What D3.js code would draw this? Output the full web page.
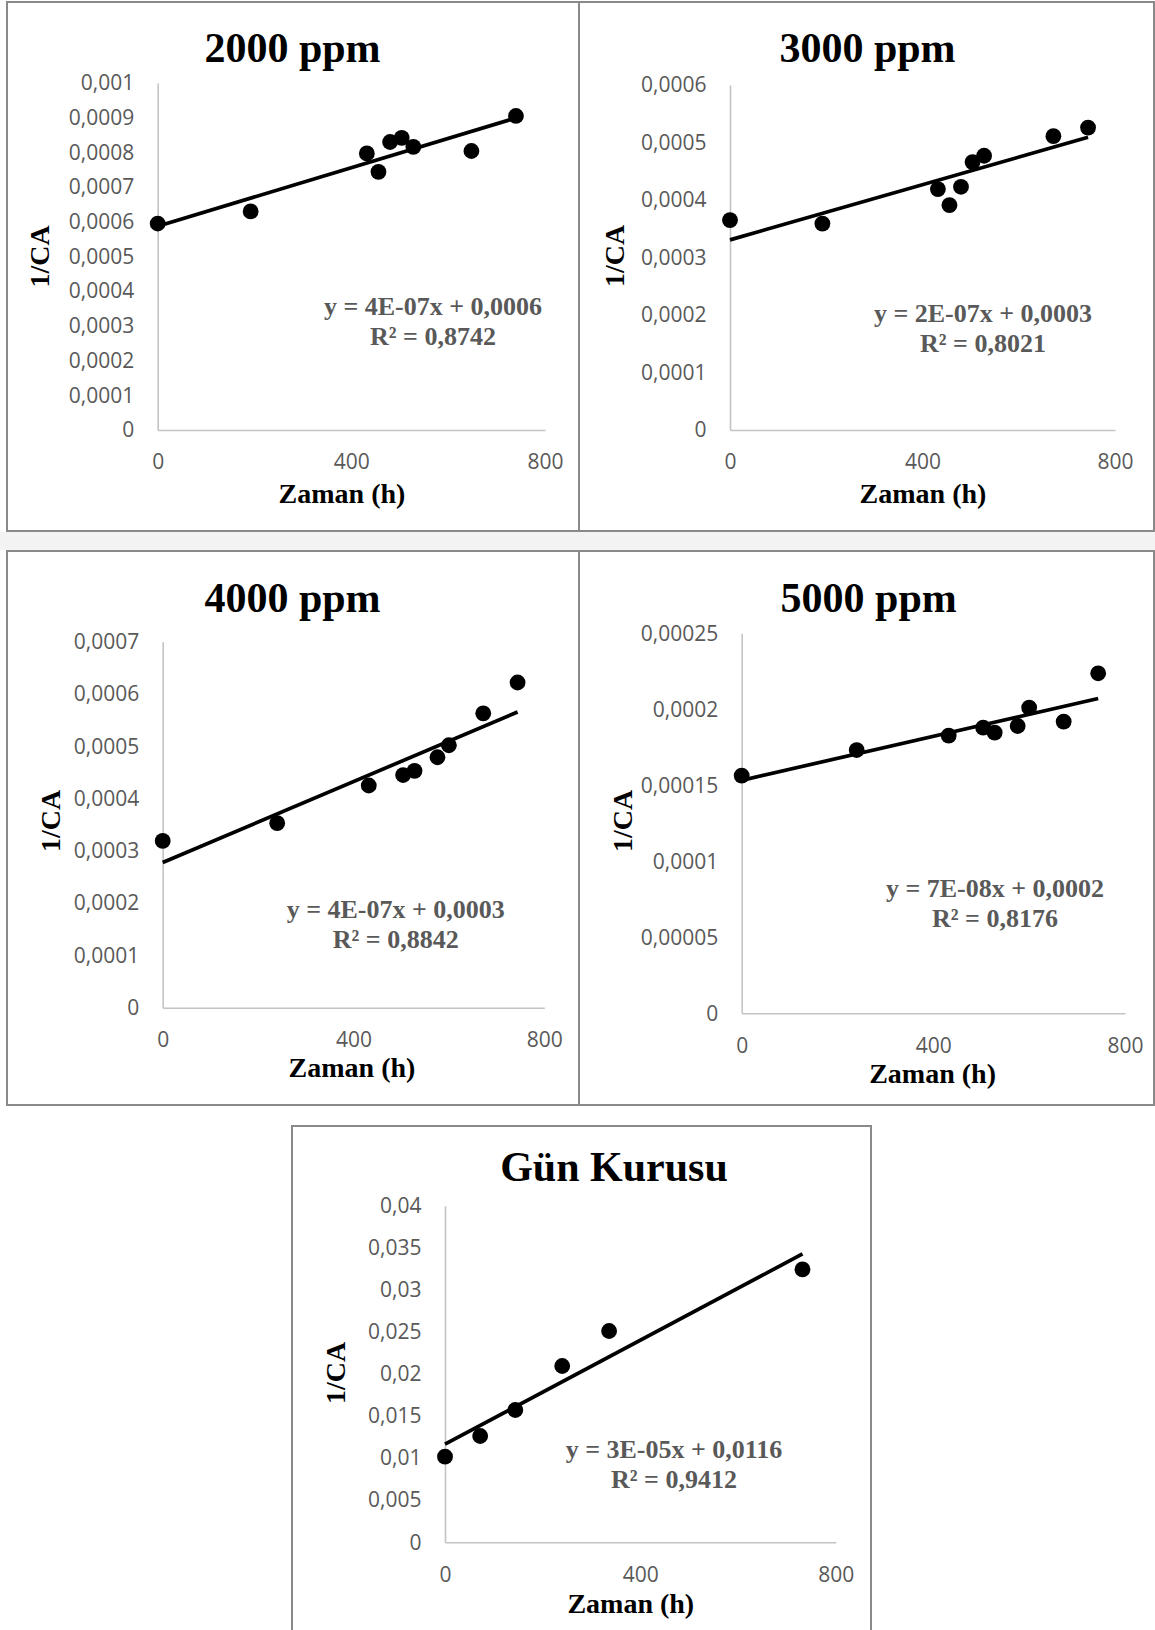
<!DOCTYPE html>
<html>
<head>
<meta charset="utf-8">
<script src="https://cdn.jsdelivr.net/npm/d3@7"></script>
<style>
  body { margin: 0; background: #fff; }
  svg { display: block; }
</style>
</head>
<body>
<svg id="chart" width="1155" height="1630"></svg>
<script>
// ---- data ----
const titles = ["2000 ppm", "3000 ppm", "4000 ppm", "5000 ppm", "Gün Kurusu"];

const times2000 = [0, 192, 432, 456, 480, 504, 528, 648, 740];
const vals2000  = [0.000595, 0.000630, 0.000797, 0.000744, 0.000830, 0.000842, 0.000816, 0.000804, 0.000905];

const times3000 = [0, 192, 432, 456, 480, 504, 528, 672, 744];
const vals3000  = [0.000365, 0.000359, 0.000419, 0.000391, 0.000423, 0.000466, 0.000477, 0.000511, 0.000526];

const times4000 = [0, 240, 432, 504, 528, 576, 600, 672, 744];
const vals4000  = [0.000319, 0.000353, 0.000425, 0.000445, 0.000453, 0.000479, 0.000502, 0.000563, 0.000622];

const times5000 = [0, 240, 432, 504, 528, 576, 600, 672, 744];
const vals5000  = [0.0001564, 0.0001732, 0.0001827, 0.0001879, 0.0001846, 0.0001890, 0.0002011, 0.0001919, 0.0002237];

const timesSun = [0, 72, 144, 240, 336, 732];
const valsSun  = [0.01018, 0.01263, 0.01572, 0.02095, 0.02511, 0.03244];

const yMax  = [0.001, 0.0006, 0.0007, 0.00025, 0.04];
const yStep = [0.0001, 0.0001, 0.0001, 0.00005, 0.005];
const xTicks = [0, 400, 800];

const equations = ["y = 4E-07x + 0,0006", "y = 2E-07x + 0,0003", "y = 4E-07x + 0,0003",
                   "y = 7E-08x + 0,0002", "y = 3E-05x + 0,0116"];
const r2Labels  = ["R² = 0,8742", "R² = 0,8021", "R² = 0,8842", "R² = 0,8176", "R² = 0,9412"];

const xTitle = "Zaman (h)";
const yTitle = "1/CA";

const allTimes = [times2000, times3000, times4000, times5000, timesSun];
const allVals  = [vals2000, vals3000, vals4000, vals5000, valsSun];

// ---- layout (page pixels) ----
// box: frame x0,y0,x1,y1   plot: left,top,right,bottom
const layout = [
  {box: [7, 2, 579, 531],      plot: [157.7, 83, 545, 430],       title: [292.5, 61.7], xt: [342, 503],   yt: [39, 256.5], eq: [433, 315]},
  {box: [579, 2, 1154, 531],   plot: [730, 85, 1115, 430],        title: [867.5, 61.7], xt: [923, 503],   yt: [614, 256],  eq: [983, 321.7]},
  {box: [7, 551, 579, 1105],   plot: [162.7, 641.7, 544.3, 1007.7], title: [292.5, 611.7], xt: [352, 1077], yt: [50, 821], eq: [395.7, 918.3]},
  {box: [579, 551, 1154, 1105], plot: [741.7, 633.3, 1125, 1013.3], title: [868.7, 611.7], xt: [932.6, 1083], yt: [622, 821], eq: [995, 896.7]},
  {box: [292, 1126, 871, 1632], plot: [445, 1205.7, 835.7, 1542.3], title: [614, 1180.7], xt: [630.8, 1613], yt: [335, 1373], eq: [674, 1458.3]}
];

const svg = d3.select("#chart");
const serif = "'Liberation Serif', 'Times New Roman', serif";
const sans = "'Open Sans', 'Liberation Sans', sans-serif";

// comma decimal like the original
const fmt = v => v === 0 ? "0" : String(+v.toFixed(6)).replace(".", ",");

// least squares line for the trend
function fit(xs, ys) {
  const mx = d3.mean(xs), my = d3.mean(ys);
  const sxy = d3.sum(xs, (d, i) => (d - mx) * (ys[i] - my));
  const sxx = d3.sum(xs, d => (d - mx) * (d - mx));
  const b = sxy / sxx;
  return {b: b, a: my - b * mx};
}

// faint band between the two upper rows
svg.append("rect")
  .attr("x", 0).attr("y", 532).attr("width", 1155).attr("height", 18)
  .attr("fill", "#f3f3f3");

layout.forEach((L, i) => {
  const g = svg.append("g");
  const ts = allTimes[i], vs = allVals[i];

  g.append("rect")
    .attr("x", L.box[0]).attr("y", L.box[1])
    .attr("width", L.box[2] - L.box[0]).attr("height", L.box[3] - L.box[1])
    .attr("fill", "#fff").attr("stroke", "#898989").attr("stroke-width", 2);

  const x = d3.scaleLinear().domain([0, 800]).range([L.plot[0], L.plot[2]]);
  const y = d3.scaleLinear().domain([0, yMax[i]]).range([L.plot[3], L.plot[1]]);
  const yTicks = d3.range(0, Math.round(yMax[i] / yStep[i]) + 1).map(k => k * yStep[i]);

  const ya = g.append("g")
    .attr("transform", `translate(${L.plot[0]},0)`)
    .call(d3.axisLeft(y).tickValues(yTicks).tickFormat(fmt)
      .tickSize(0).tickSizeOuter(0).tickPadding(23.5));
  const xa = g.append("g")
    .attr("transform", `translate(0,${L.plot[3]})`)
    .call(d3.axisBottom(x).tickValues(xTicks).tickFormat(d3.format("d"))
      .tickSize(0).tickSizeOuter(0).tickPadding(24.3));

  [ya, xa].forEach(a => {
    a.attr("font-family", sans).attr("font-size", 21);
    a.select(".domain").attr("stroke", "#c4c4c4").attr("stroke-width", 1.6);
    a.selectAll("text").attr("fill", "#595959");
  });

  // trendline over the data range
  const f = fit(ts, vs);
  const t0 = d3.min(ts), t1 = d3.max(ts);
  g.append("line")
    .attr("x1", x(t0)).attr("y1", y(f.a + f.b * t0))
    .attr("x2", x(t1)).attr("y2", y(f.a + f.b * t1))
    .attr("stroke", "#000").attr("stroke-width", 3.7);

  g.selectAll("circle.pt")
    .data(ts.map((t, k) => [t, vs[k]]))
    .join("circle")
    .attr("class", "pt")
    .attr("cx", d => x(d[0])).attr("cy", d => y(d[1]))
    .attr("r", 7.9).attr("fill", "#000");

  // titles
  g.append("text")
    .attr("x", L.title[0]).attr("y", L.title[1])
    .attr("text-anchor", "middle")
    .attr("font-family", serif).attr("font-weight", "bold").attr("font-size", 42)
    .attr("fill", "#000").text(titles[i]);

  g.append("text")
    .attr("x", L.xt[0]).attr("y", L.xt[1])
    .attr("text-anchor", "middle")
    .attr("font-family", serif).attr("font-weight", "bold").attr("font-size", 28)
    .attr("fill", "#000").text(xTitle);

  g.append("text")
    .attr("transform", `translate(${L.yt[0] + 9.5},${L.yt[1]}) rotate(-90)`)
    .attr("text-anchor", "middle")
    .attr("font-family", serif).attr("font-weight", "bold").attr("font-size", 28)
    .attr("fill", "#000").text(yTitle);

  // trend equation
  const eq = g.append("text")
    .attr("text-anchor", "middle")
    .attr("font-family", serif).attr("font-weight", "bold").attr("font-size", 26)
    .attr("fill", "#595959");
  eq.append("tspan").attr("x", L.eq[0]).attr("y", L.eq[1]).text(equations[i]);
  eq.append("tspan").attr("x", L.eq[0]).attr("y", L.eq[1] + 30).text(r2Labels[i]);
});
</script>
</body>
</html>
